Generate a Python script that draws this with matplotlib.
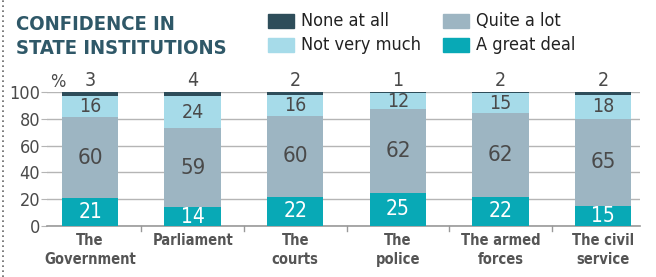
import matplotlib
matplotlib.use("Agg")
import matplotlib.pyplot as plt
from matplotlib.lines import Line2D
import numpy as np

# dados
categorias = ["The\nGovernment", "Parliament", "The\ncourts", "The\npolice",
              "The armed\nforces", "The civil\nservice"]
great_deal = [21, 14, 22, 25, 22, 15]
quite_a_lot = [60, 59, 60, 62, 62, 65]
not_very_much = [16, 24, 16, 12, 15, 18]
none_at_all = [3, 4, 2, 1, 2, 2]
y_ticks = [0, 20, 40, 60, 80, 100]

FONTE = dict(family="DejaVu Sans", stretch="condensed")
c_none = "#2e4d5a"
c_quite = "#9db5c2"
c_not = "#a6dbe9"
c_great = "#08a9b6"
c_texto = "#4a4a4a"

fig = plt.figure(figsize=(6.56, 2.77), dpi=100)
ax = fig.add_axes([47 / 656, 1 - 226 / 277, (640 - 47) / 656, (226 - 92) / 277])

x = np.arange(len(categorias))
w = 0.55
b1 = np.array(great_deal)
b2 = b1 + np.array(quite_a_lot)
b3 = b2 + np.array(not_very_much)

ax.bar(x, great_deal, w, color=c_great, zorder=3)
ax.bar(x, quite_a_lot, w, bottom=b1, color=c_quite, zorder=3)
ax.bar(x, not_very_much, w, bottom=b2, color=c_not, zorder=3)
ax.bar(x, none_at_all, w, bottom=b3, color=c_none, zorder=3)

for i in range(len(x)):
    ax.text(x[i], b1[i] / 2, str(great_deal[i]), ha="center", va="center",
            color="white", fontsize=15, zorder=4, **FONTE)
    ax.text(x[i], (b1[i] + b2[i]) / 2, str(quite_a_lot[i]), ha="center", va="center",
            color=c_texto, fontsize=16, zorder=4, **FONTE)
    ax.text(x[i], (b2[i] + b3[i]) / 2, str(not_very_much[i]), ha="center", va="center",
            color=c_texto, fontsize=14, zorder=4, **FONTE)
    ax.text(x[i], 101.5, str(none_at_all[i]), ha="center", va="bottom",
            color=c_texto, fontsize=14, zorder=4, **FONTE)

ax.set_xlim(-0.42, 5.36)
ax.set_ylim(0, 100)
ax.set_yticks(y_ticks)
ax.set_yticklabels([str(v) for v in y_ticks], fontsize=13, color=c_texto, **FONTE)
ax.yaxis.grid(True, color="#b5b5b5", lw=1, zorder=0)
ax.tick_params(axis="y", length=4, color="#b5b5b5", pad=1)
ax.set_xticks(x)
ax.set_xticklabels(categorias, fontsize=10.5, fontweight="bold",
                   color="#555555", linespacing=1.35, **FONTE)
ax.tick_params(axis="x", length=0, pad=5)
# pequenos tracos entre as categorias
for xm in x[:-1] + 0.5:
    ax.plot([xm, xm], [0, -4], color="#999999", lw=1, clip_on=False)
for s in ["top", "right", "left"]:
    ax.spines[s].set_visible(False)
ax.spines["bottom"].set_color("#999999")
ax.spines["bottom"].set_linewidth(1.2)
ax.text(-0.39, 101, "%", ha="left", va="bottom", fontsize=13, color=c_texto, **FONTE)

# titulo em duas linhas
for linha, yc in [("CONFIDENCE IN", 22), ("STATE INSTITUTIONS", 47)]:
    fig.text(16 / 656, 1 - yc / 277, linha, ha="left", va="center_baseline",
             fontsize=14.5, fontweight="bold", color="#2f5868", **FONTE)

# legenda manual 2x2
leg = [("None at all", c_none, 268, 21), ("Not very much", c_not, 268, 45),
       ("Quite a lot", c_quite, 443, 21), ("A great deal", c_great, 443, 45)]
for nome, cor, px, py in leg:
    fig.patches.append(plt.Rectangle((px / 656, 1 - (py + 7) / 277), 26 / 656, 14 / 277,
                                     transform=fig.transFigure, color=cor))
    fig.text((px + 33) / 656, 1 - py / 277, nome, ha="left", va="center",
             fontsize=13, color="#222222", **FONTE)

# borda pontilhada a esquerda
fig.add_artist(Line2D([3 / 656, 3 / 656], [0, 1], transform=fig.transFigure,
                      color="#666666", lw=1.2, ls=(0, (1, 2))))

fig.savefig("out.png", dpi=100)
